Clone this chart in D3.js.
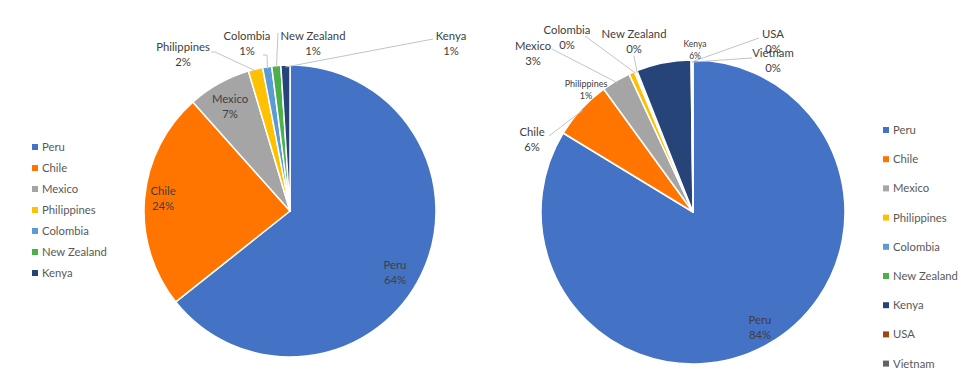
<!DOCTYPE html>
<html><head><meta charset="utf-8">
<script src="https://cdn.jsdelivr.net/npm/d3@7"></script>
<style>
body{margin:0;background:#fff;}
text{font-family:Lato,"Open Sans",sans-serif;}
</style></head>
<body><svg id="c" width="975" height="373"></svg>
<script>
// ---- data ----
const leftCategories = ["Peru","Chile","Mexico","Philippines","Colombia","New Zealand","Kenya"];
const leftValues = [64.3, 24.1, 7.0, 1.6, 1.0, 1.0, 1.0];
const rightCategories = ["Peru","Chile","Mexico","Philippines","Colombia","New Zealand","Kenya","USA","Vietnam"];
const rightValues = [83.7, 6.3, 3.1, 0.6, 0.15, 0.15, 5.8, 0.1, 0.1];
const colors = {"Peru":"#4472c4","Chile":"#ff7500","Mexico":"#a5a5a5","Philippines":"#ffc000","Colombia":"#5b9bd5","New Zealand":"#4cb04a","Kenya":"#264478","USA":"#9e480e","Vietnam":"#636363"};

// ---- layout (label positions relative to pie centre; line: leader start points) ----
const FS = 11.3;
const leftLayout = {
  cx:290, cy:211, r:146,
  labels:{
    "Peru":{x:105,y:54,fs:FS},
    "Chile":{x:-127,y:-20,fs:FS},
    "Mexico":{x:-60,y:-112,fs:FS},
    "Philippines":{x:-107,y:-164,fs:FS,line:[[-79,-159],[-75,-159]]},
    "Colombia":{x:-43,y:-175,fs:FS,line:[[-27,-156],[-23,-156]]},
    "New Zealand":{x:23,y:-175,fs:FS,line:[[-12,-178]]},
    "Kenya":{x:161,y:-175,fs:FS,line:[[143,-172]]}
  }
};
const rightLayout = {
  cx:693, cy:212, r:152,
  labels:{
    "Peru":{x:67,y:108,fs:FS},
    "Chile":{x:-161,y:-80,fs:FS,line:[[-144,-76]]},
    "Mexico":{x:-160,y:-166,fs:FS,line:[[-141,-163]]},
    "Philippines":{x:-107,y:-128,fs:9},
    "Colombia":{x:-126,y:-182,fs:FS,line:[[-108,-176]]},
    "New Zealand":{x:-59,y:-178,fs:FS,line:[[-59,-156]]},
    "Kenya":{x:2,y:-168,fs:8.5},
    "USA":{x:80,y:-178,fs:FS,line:[[66,-174]]},
    "Vietnam":{x:80,y:-159,fs:FS,line:[[59,-154]]}
  }
};

const svg = d3.select("#c");

function drawPie(cats, vals, L){
  const data = cats.map((c,i)=>({name:c, value:vals[i]}));
  const pie = d3.pie().value(d=>d.value).sort(null).startAngle(0).endAngle(2*Math.PI);
  const arcs = pie(data);
  const total = d3.sum(vals);
  const arc = d3.arc().innerRadius(0).outerRadius(L.r);
  const g = svg.append("g").attr("transform",`translate(${L.cx},${L.cy})`);
  g.selectAll("path.s").data(arcs).join("path").attr("class","s")
    .attr("d",arc).attr("fill",d=>colors[d.data.name])
    .attr("stroke","#fff").attr("stroke-width",1.5).attr("stroke-linejoin","round");
  // leader lines
  arcs.forEach(a=>{
    const lb = L.labels[a.data.name];
    if(!lb || !lb.line) return;
    const mid = (a.startAngle+a.endAngle)/2;
    const rr = L.r-2;
    const end = [rr*Math.sin(mid), -rr*Math.cos(mid)];
    const pts = lb.line.concat([end]);
    g.append("path").attr("d",d3.line()(pts)).attr("fill","none")
      .attr("stroke","#c4c4c4").attr("stroke-width",1);
  });
  // labels
  arcs.forEach(a=>{
    const lb = L.labels[a.data.name];
    if(!lb) return;
    const pct = Math.round(a.data.value/total*100)+"%";
    const t = g.append("text").attr("text-anchor","middle")
      .attr("fill","#404040").attr("font-size",lb.fs);
    t.append("tspan").attr("x",lb.x).attr("y",lb.y).attr("dy","0.35em").text(a.data.name);
    t.append("tspan").attr("x",lb.x).attr("y",lb.y+lb.fs*1.36).attr("dy","0.35em").text(pct);
  });
}

function drawLegend(cats, x, y0, step){
  const y = d3.scalePoint().domain(cats).range([y0, y0+step*(cats.length-1)]);
  const g = svg.append("g");
  cats.forEach(c=>{
    g.append("rect").attr("x",x).attr("y",y(c)-3).attr("width",6).attr("height",6).attr("fill",colors[c]);
    g.append("text").attr("x",x+10).attr("y",y(c)).attr("dy","0.35em")
      .attr("font-size",FS).attr("fill","#595959").text(c);
  });
}

drawPie(leftCategories, leftValues, leftLayout);
drawPie(rightCategories, rightValues, rightLayout);
drawLegend(leftCategories, 32, 147, 21);
drawLegend(rightCategories, 883, 130, 29.2);
</script></body></html>
